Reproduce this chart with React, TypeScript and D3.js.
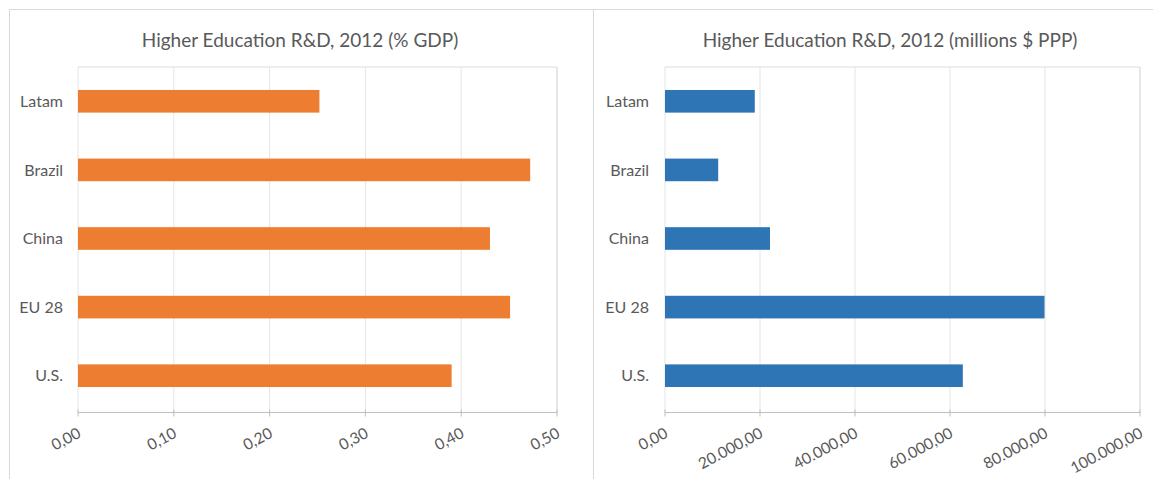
import React from "react";
import * as d3 from "d3";

const categories = ["Latam", "Brazil", "China", "EU 28", "U.S."];
const gdpShare = [0.252, 0.472, 0.43, 0.451, 0.39];
const millionsPPP = [18900, 11200, 22100, 79900, 62700];
const gdpTicks = [0, 0.1, 0.2, 0.3, 0.4, 0.5];
const pppTicks = [0, 20000, 40000, 60000, 80000, 100000];
const titles = ["Higher Education R&D, 2012 (% GDP)", "Higher Education R&D, 2012 (millions $ PPP)"];

const W = 1163;
const H = 479;
const FONT = "Lato, 'Open Sans', sans-serif";
const TEXT = "#595959";

const fmtGdp = (v: number) => d3.format(".2f")(v).replace(".", ",");
const fmtPpp = (v: number) =>
  d3.format(",.2f")(v).replace(/,/g, "#").replace(".", ",").replace(/#/g, ".");

type PanelProps = {
  x0: number;
  x1: number;
  cx: number;
  labelX: number;
  title: string;
  values: number[];
  ticks: number[];
  max: number;
  color: string;
  fmt: (v: number) => string;
};

function Panel({ x0, x1, cx, labelX, title, values, ticks, max, color, fmt }: PanelProps) {
  const top = 67;
  const bottom = 410;
  const axisY = 412.5;
  const x = d3.scaleLinear().domain([0, max]).range([x0, x1]);
  const y = d3.scaleBand().domain(categories).range([top, bottom]).paddingInner(0.67).paddingOuter(0.335);
  return (
    <g>
      <text x={cx} y={47} textAnchor="middle" fontFamily={FONT} fontSize={19} fill={TEXT}>
        {title}
      </text>
      {ticks.map((t, i) => (
        <line
          key={"g" + t}
          x1={x(t)}
          x2={x(t)}
          y1={top}
          y2={axisY}
          stroke={i === ticks.length - 1 ? "#cfcfcf" : "#e5e5e5"}
          strokeWidth={1}
        />
      ))}
      <line x1={x0} x2={x1} y1={top} y2={top} stroke="#dcdcdc" />
      {categories.map((c, i) => (
        <rect
          key={c}
          x={x(0)}
          y={y(c)!}
          width={x(values[i]) - x(0)}
          height={y.bandwidth()}
          fill={color}
        />
      ))}
      <line x1={x0} x2={x1} y1={axisY} y2={axisY} stroke="#bfbfbf" strokeWidth={1} />
      {ticks.map((t) => (
        <line key={"t" + t} x1={x(t)} x2={x(t)} y1={axisY - 3} y2={axisY + 4} stroke="#bfbfbf" />
      ))}
      {categories.map((c) => (
        <text
          key={"l" + c}
          x={labelX}
          y={y(c)! + y.bandwidth() / 2}
          dy="0.35em"
          textAnchor="end"
          fontFamily={FONT}
          fontSize={16}
          fill={TEXT}
        >
          {c}
        </text>
      ))}
      {ticks.map((t) => (
        <text
          key={"tl" + t}
          transform={`translate(${x(t) + 4},${axisY + 24}) rotate(-28)`}
          textAnchor="end"
          fontFamily={FONT}
          fontSize={15.5}
          fill={TEXT}
        >
          {fmt(t)}
        </text>
      ))}
    </g>
  );
}

export default function App() {
  return (
    <svg width={W} height={H} style={{ position: "absolute", left: 0, top: 0, background: "#fff" }}>
      <rect x={0} y={0} width={W} height={H} fill="#fff" />
      <line x1={9.5} x2={1153} y1={9.5} y2={9.5} stroke="#d9d9d9" />
      <line x1={9.5} x2={9.5} y1={9.5} y2={H} stroke="#d9d9d9" />
      <line x1={593.5} x2={593.5} y1={9.5} y2={H} stroke="#d9d9d9" />
      <Panel
        x0={78}
        x1={557}
        cx={300}
        labelX={63}
        title={titles[0]}
        values={gdpShare}
        ticks={gdpTicks}
        max={0.5}
        color="#ED7D31"
        fmt={fmtGdp}
      />
      <Panel
        x0={665}
        x1={1140}
        cx={890}
        labelX={649}
        title={titles[1]}
        values={millionsPPP}
        ticks={pppTicks}
        max={100000}
        color="#2E75B6"
        fmt={fmtPpp}
      />
    </svg>
  );
}
